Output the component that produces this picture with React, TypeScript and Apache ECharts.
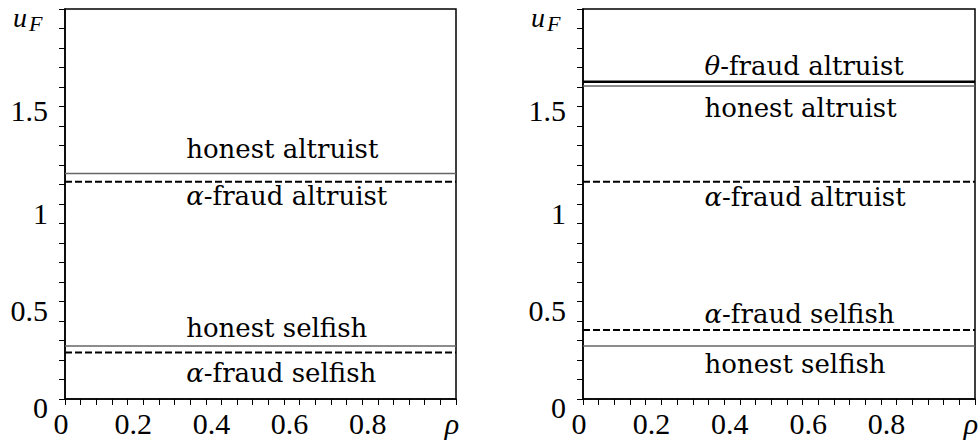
import React, { useEffect, useRef } from "react";
import * as echarts from "echarts";

const TICK_FONT = "Liberation Serif";
const NOTE_FONT = "DejaVu Serif";

// x range (rho) for the horizontal payoff lines
const rhoEnds = [0, 1];

// left panel payoffs u_F
const leftHonestAltruist = [1.157, 1.157];
const leftAlphaAltruist = [1.114, 1.114];
const leftHonestSelfish = [0.272, 0.272];
const leftAlphaSelfish = [0.239, 0.239];

// right panel payoffs u_F
const rightThetaAltruist = [1.627, 1.627];
const rightHonestAltruist = [1.605, 1.605];
const rightAlphaAltruist = [1.114, 1.114];
const rightAlphaSelfish = [0.354, 0.354];
const rightHonestSelfish = [0.272, 0.272];

// tick labels
const xTickValues = [0, 0.2, 0.4, 0.6, 0.8];
const xTickLabels = ["0", "0.2", "0.4", "0.6", "0.8"];
const yTickValues = [0, 0.5, 1, 1.5];
const yTickLabels = ["0", "0.5", "1", "1.5"];

// curve annotations (anchors in data units)
const leftLabelNames = ["honest altruist", "α-fraud altruist", "honest selfish", "α-fraud selfish"];
const leftLabelY = [1.282, 1.041, 0.364, 0.133];
const rightLabelNames = ["θ-fraud altruist", "honest altruist", "α-fraud altruist", "α-fraud selfish", "honest selfish"];
const rightLabelY = [1.708, 1.492, 1.036, 0.436, 0.179];
const labelRho = 0.31;

const makeX = (gi: number) => ({
  type: "value",
  gridIndex: gi,
  min: 0,
  max: 1,
  interval: 0.04,
  axisLine: { show: true, lineStyle: { color: "#000", width: 1.5 } },
  axisTick: { show: true, inside: false, length: 6, lineStyle: { color: "#000", width: 1 } },
  splitLine: { show: false },
  axisLabel: { show: false },
});

const makeY = (gi: number) => ({
  type: "value",
  gridIndex: gi,
  min: 0,
  max: 2,
  interval: 0.1,
  axisLine: { show: true, lineStyle: { color: "#000", width: 1.5 } },
  axisTick: { show: true, inside: false, length: 6, lineStyle: { color: "#000", width: 1 } },
  splitLine: { show: false },
  axisLabel: { show: false },
});

const lineSeries = (gi: number, name: string, vals: number[], dashed: boolean, color: string, width: number) => ({
  type: "line",
  name,
  xAxisIndex: gi,
  yAxisIndex: gi,
  data: rhoEnds.map((x, i) => [x, vals[i]]),
  symbol: "none",
  lineStyle: { color, width, type: dashed ? [7, 3] : "solid" },
  silent: true,
});

const measure = (text: string, font: string) => {
  const c = document.createElement("canvas").getContext("2d");
  if (!c) return text.length * 14;
  c.font = font;
  return c.measureText(text).width;
};

const txt = (x: number, y: number, text: string, family: string, size: number, align: string, italic = false) => ({
  type: "text",
  x,
  y,
  silent: true,
  style: {
    text,
    fontFamily: family,
    fontSize: size,
    fontStyle: italic ? "italic" : "normal",
    fill: "#000",
    align,
    verticalAlign: "middle",
    textAlign: align,
    textVerticalAlign: "middle",
  },
});

export default function App() {
  const ref = useRef<HTMLDivElement>(null);
  useEffect(() => {
    document.body.style.margin = "0";
    if (!ref.current) return;
    const chart = echarts.init(ref.current, null, { renderer: "svg" });
    chart.setOption({
      animation: false,
      backgroundColor: "#fff",
      grid: [
        { left: 65, top: 9, width: 391, height: 390, show: true, borderColor: "#000", borderWidth: 1.5, backgroundColor: "transparent" },
        { left: 583, top: 9, width: 392, height: 390, show: true, borderColor: "#000", borderWidth: 1.5, backgroundColor: "transparent" },
      ],
      xAxis: [makeX(0), makeX(1)],
      yAxis: [makeY(0), makeY(1)],
      series: [
        lineSeries(0, "honest altruist", leftHonestAltruist, false, "#666", 1.5),
        lineSeries(0, "α-fraud altruist", leftAlphaAltruist, true, "#000", 2),
        lineSeries(0, "honest selfish", leftHonestSelfish, false, "#666", 1.5),
        lineSeries(0, "α-fraud selfish", leftAlphaSelfish, true, "#000", 2),
        lineSeries(1, "θ-fraud altruist", rightThetaAltruist, false, "#000", 2.5),
        lineSeries(1, "honest altruist", rightHonestAltruist, false, "#666", 1.5),
        lineSeries(1, "α-fraud altruist", rightAlphaAltruist, true, "#000", 2),
        lineSeries(1, "α-fraud selfish", rightAlphaSelfish, true, "#000", 2),
        lineSeries(1, "honest selfish", rightHonestSelfish, false, "#666", 1.5),
      ],
    });

    const NOTE_SIZE = 26;
    const TICK_SIZE = 30;
    const yNudge = [8, 9, 9, 4];
    const graphics: any[] = [];
    const panels = [
      { gi: 0, names: leftLabelNames, ys: leftLabelY },
      { gi: 1, names: rightLabelNames, ys: rightLabelY },
    ];
    panels.forEach(({ gi, names, ys }) => {
      const px = (v: number[]) => chart.convertToPixel({ gridIndex: gi }, v) as number[];
      // x tick labels
      xTickValues.forEach((v, i) => {
        const p = px([v, 0]);
        graphics.push(txt(p[0] + (v === 0 ? -4 : -10), p[1] + 24, xTickLabels[i], TICK_FONT, TICK_SIZE, "center"));
      });
      const pr = px([1, 0]);
      graphics.push(txt(pr[0] - 4, pr[1] + 24, "ρ", TICK_FONT, TICK_SIZE, "center", true));
      // y tick labels
      yTickValues.forEach((v, i) => {
        const p = px([0, v]);
        graphics.push(txt(p[0] - 17, p[1] + yNudge[i], yTickLabels[i], TICK_FONT, TICK_SIZE, "right"));
      });
      const pt = px([0, 2]);
      graphics.push(txt(pt[0] - 52, pt[1] + 8, "u", TICK_FONT, 28, "left", true));
      graphics.push(txt(pt[0] - 36, pt[1] + 14, "F", TICK_FONT, 22, "left", true));
      // annotations
      names.forEach((n, i) => {
        const p = px([labelRho, ys[i]]);
        const c = n.charAt(0);
        if (c === "α" || c === "θ") {
          const w = measure(c, `italic ${NOTE_SIZE}px "${NOTE_FONT}"`);
          graphics.push(txt(p[0], p[1], c, NOTE_FONT, NOTE_SIZE, "left", true));
          graphics.push(txt(p[0] + w, p[1], n.slice(1), NOTE_FONT, NOTE_SIZE, "left"));
        } else {
          graphics.push(txt(p[0], p[1], n, NOTE_FONT, NOTE_SIZE, "left"));
        }
      });
    });
    chart.setOption({ graphic: graphics });
    return () => chart.dispose();
  }, []);
  return <div ref={ref} style={{ width: 980, height: 441 }} />;
}
